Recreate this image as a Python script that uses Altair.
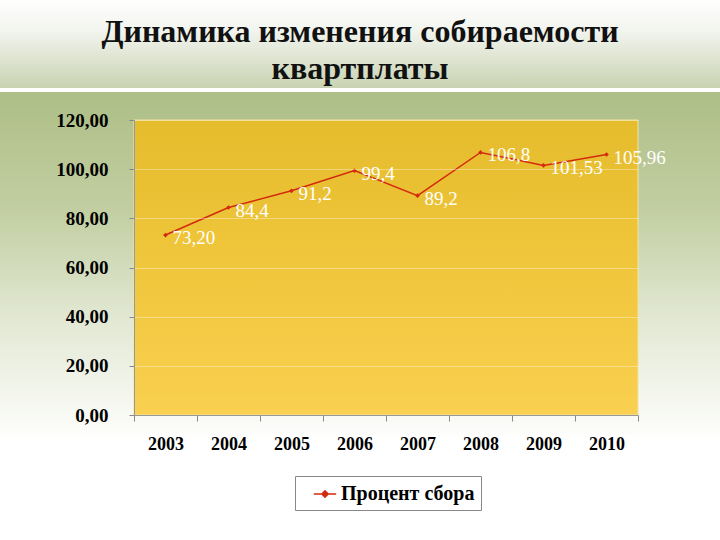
import altair as alt
import pandas as pd

years = ["2003", "2004", "2005", "2006", "2007", "2008", "2009", "2010"]
values = [73.20, 84.4, 91.2, 99.4, 89.2, 106.8, 101.53, 105.96]
labels = ["73,20", "84,4", "91,2", "99,4", "89,2", "106,8", "101,53", "105,96"]
series_name = "Процент сбора"
title_text = "Динамика изменения собираемости\nквартплаты"
y_ticks = [0, 20, 40, 60, 80, 100, 120]

df = pd.DataFrame({"year": years, "value": values, "label": labels, "series": series_name})

W, H = 504, 295
L, T = 134, 120
SERIF = "Liberation Serif"
RED = "#d42a0c"

one = pd.DataFrame({"k": [0]})

band = alt.Chart(one).mark_rect(
    color=alt.LinearGradient(gradient="linear", x1=0, x2=0, y1=0, y2=1,
                             stops=[alt.GradientStop(color="#ffffff", offset=0),
                                    alt.GradientStop(color="#f2f4ee", offset=0.35),
                                    alt.GradientStop(color="#c9d3b2", offset=1)])
).encode(x=alt.value(-L), x2=alt.value(720 - L), y=alt.value(-T), y2=alt.value(88 - T))

body = alt.Chart(one).mark_rect(
    color=alt.LinearGradient(gradient="linear", x1=0, x2=0, y1=0, y2=1,
                             stops=[alt.GradientStop(color="#adbe86", offset=0),
                                    alt.GradientStop(color="#c3cfa3", offset=0.35),
                                    alt.GradientStop(color="#e2e8d3", offset=0.65),
                                    alt.GradientStop(color="#fafbf7", offset=0.95),
                                    alt.GradientStop(color="#ffffff", offset=1)])
).encode(x=alt.value(-L), x2=alt.value(720 - L), y=alt.value(92 - T), y2=alt.value(440 - T))

plot_bg = alt.Chart(one).mark_rect(
    color=alt.LinearGradient(gradient="linear", x1=0, x2=0, y1=0, y2=1,
                             stops=[alt.GradientStop(color="#e5bc2c", offset=0),
                                    alt.GradientStop(color="#f0c63c", offset=0.5),
                                    alt.GradientStop(color="#f9d050", offset=1)]),
    stroke="#f3e3a0", strokeWidth=1
).encode(x=alt.value(0), x2=alt.value(W), y=alt.value(0), y2=alt.value(H))

title = alt.Chart(one).mark_text(
    text=title_text, lineBreak="\n", lineHeight=37,
    font=SERIF, fontSize=32, fontWeight="bold", color="#111111", align="center", baseline="alphabetic"
).encode(x=alt.value(360 - L), y=alt.value(42 - T))

base = alt.Chart(df)

x_enc = alt.X("year:N", sort=years, bandPosition=0.5,
              scale=alt.Scale(type="band", paddingInner=0, paddingOuter=0),
              axis=alt.Axis(title=None, labelAngle=0, tickBand="extent", labelFont=SERIF,
                            labelFontSize=18, labelFontWeight="bold", labelColor="#000000",
                            labelPadding=14, tickSize=6, tickColor="#888888",
                            domainColor="#999999", zindex=2))
y_enc = alt.Y("value:Q", scale=alt.Scale(domain=[0, 120], nice=False),
              axis=alt.Axis(title=None, values=y_ticks,
                            labelExpr="replace(format(datum.value, '.2f'), '.', ',')",
                            labelFont=SERIF, labelFontSize=19, labelFontWeight="bold",
                            labelColor="#000000", labelPadding=21, tickSize=5,
                            tickColor="#888888", domainColor="#999999",
                            grid=True, gridColor="#ffffff", gridOpacity=0.35, zindex=2))

line = base.mark_line(strokeWidth=1.5).encode(
    x=x_enc, y=y_enc,
    color=alt.Color("series:N", scale=alt.Scale(range=[RED]),
                    legend=alt.Legend(title=None, orient="none", legendX=295 - L, legendY=476 - T,
                                      symbolType="M-1,0H1M0,-0.28L0.28,0L0,0.28L-0.28,0Z",
                                      symbolSize=500, symbolStrokeWidth=1.5, symbolFillColor=RED,
                                      labelFont=SERIF, labelFontSize=20, labelFontWeight="bold",
                                      labelColor="#000000", fillColor="#ffffff", strokeColor="#888888",
                                      padding=6, labelLimit=300, symbolOffset=12)),
)
pts = base.mark_point(shape="diamond", filled=True, size=22, color=RED, opacity=1).encode(x=x_enc, y=y_enc)
txt = base.mark_text(font=SERIF, fontSize=19, color="#ffffff", align="left", baseline="middle",
                     dx=7, dy=3).encode(x=x_enc, y=y_enc, text="label:N")

chart = alt.layer(band, body, title, plot_bg, line, pts, txt).properties(
    width=W, height=H,
    autosize=alt.AutoSizeParams(type="none"),
    padding={"left": L, "top": T, "right": 720 - L - W, "bottom": 540 - T - H},
    background="#ffffff",
).configure_view(stroke=None)

chart.save("out.html", embed_options={"renderer": "svg", "actions": False})
